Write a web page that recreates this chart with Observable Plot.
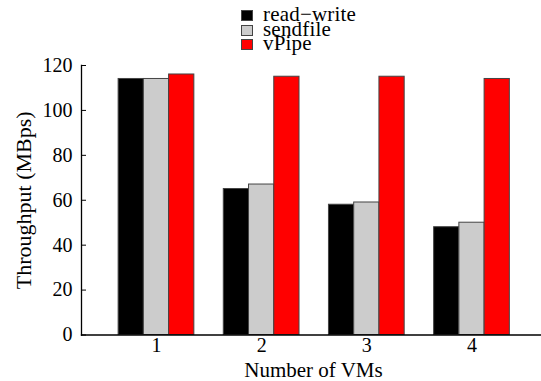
<!DOCTYPE html>
<html>
<head>
<meta charset="utf-8">
<script src="https://cdn.jsdelivr.net/npm/d3@7"></script>
<script src="https://cdn.jsdelivr.net/npm/@observablehq/plot@0.6"></script>
<style>
  html, body { margin: 0; padding: 0; background: #fff; }
  #wrap { position: relative; width: 541px; height: 381px; font-family: "Liberation Serif", "Times New Roman", serif; }
  #legend { position: absolute; left: 241px; top: 7px; font-size: 21px; letter-spacing: 0.2px; line-height: 14.7px; color: #000; }
  .row { display: flex; align-items: center; height: 14.7px; white-space: nowrap; }
  .sw { width: 10px; height: 9px; border: 1px solid #444; margin-right: 10px; flex: none; margin-top: 2px; }
</style>
</head>
<body>
<div id="wrap"></div>
<script>
const vms = [1, 2, 3, 4];
const seriesNames = ["read\u2212write", "sendfile", "vPipe"];
const seriesColors = ["#000000", "#cccccc", "#ff0000"];
const readWrite = [114, 65, 58, 48];
const sendfile = [114, 67, 59, 50];
const vPipe = [116, 115, 115, 114];
const yTicks = [0, 20, 40, 60, 80, 100, 120];
const xTitle = "Number of VMs";
const yTitle = "Throughput (MBps)";

const seriesValues = [readWrite, sendfile, vPipe];
const rows = [];
vms.forEach((vm, g) => {
  seriesNames.forEach((s, i) => {
    rows.push({vm, series: s, i, value: seriesValues[i][g]});
  });
});

const bw = 0.24;
const font = "'Liberation Serif', 'Times New Roman', serif";

const chart = Plot.plot({
  width: 541,
  height: 381,
  marginLeft: 81,
  marginRight: 0,
  marginTop: 65,
  marginBottom: 46.5,
  style: {fontFamily: font, fontSize: "20px", background: "#fff", color: "#000"},
  x: {type: "linear", domain: [0.287, 4.661]},
  y: {domain: [0, 120]},
  color: {domain: seriesNames, range: seriesColors},
  marks: [
    Plot.rectY(rows, {
      x1: d => d.vm + (d.i - 1.5) * bw,
      x2: d => d.vm + (d.i - 0.5) * bw,
      y: "value",
      fill: "series",
      stroke: "#444",
      strokeWidth: 1
    }),
    Plot.frame({anchor: "left", stroke: "#000", strokeWidth: 1.3}),
    Plot.frame({anchor: "bottom", stroke: "#000", strokeWidth: 1.3}),
    Plot.axisY({ticks: yTicks, tickSize: -5, tickPadding: 14, tickFormat: d => String(d), label: null}),
    Plot.axisX({ticks: vms, tickSize: 0, tickPadding: 3, tickFormat: d => String(d), label: null}),
    Plot.text([yTitle], {frameAnchor: "left", rotate: -90, dx: -58, fontSize: 22, textAnchor: "middle", lineAnchor: "middle"}),
    Plot.text([xTitle], {frameAnchor: "bottom", dx: 2, dy: 35.5, fontSize: 21, letterSpacing: 0.8, textAnchor: "middle", lineAnchor: "middle"})
  ]
});

const wrap = document.getElementById("wrap");
wrap.appendChild(chart);

const legend = document.createElement("div");
legend.id = "legend";
seriesNames.forEach((s, i) => {
  const row = document.createElement("div");
  row.className = "row";
  const sw = document.createElement("div");
  sw.className = "sw";
  sw.style.background = seriesColors[i];
  const t = document.createElement("span");
  t.textContent = s;
  row.appendChild(sw);
  row.appendChild(t);
  legend.appendChild(row);
});
wrap.appendChild(legend);
</script>
</body>
</html>
